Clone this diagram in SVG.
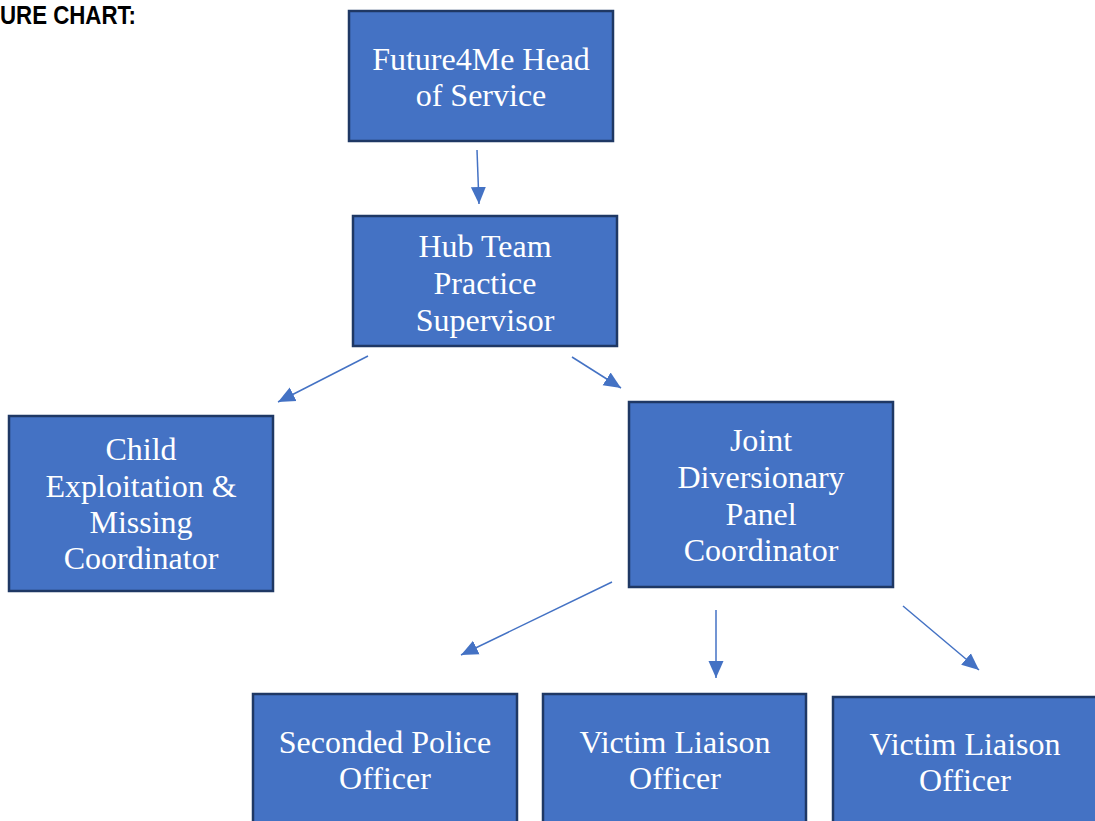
<svg xmlns="http://www.w3.org/2000/svg" width="1095" height="821" viewBox="0 0 1095 821">
<style>
.box{fill:#4472C4;stroke:#1F3864;stroke-width:2.5}
.lbl{fill:#FFFFFF;font-family:"Liberation Serif","Times New Roman",serif;font-size:32px;text-anchor:middle}
.conn{stroke:#4472C4;stroke-width:1.5;fill:none;marker-end:url(#arr)}
.title{fill:#000000;font-family:"Liberation Sans",Arial,sans-serif;font-weight:bold;font-size:25px}
</style>
<defs>
<marker id="arr" markerUnits="userSpaceOnUse" markerWidth="18" markerHeight="18" viewBox="0 0 18 18" refX="17" refY="9" orient="auto">
<path d="M0,1.5 L17,9 L0,16.5 Z" fill="#4472C4"/>
</marker>
</defs>
<rect width="1095" height="821" fill="#FFFFFF"/>
<text class="title" x="0" y="24" textLength="136" lengthAdjust="spacingAndGlyphs">URE CHART:</text>
<g id="connectors">
<line class="conn" x1="477" y1="150" x2="479" y2="204"/>
<line class="conn" x1="368" y1="356" x2="278" y2="402"/>
<line class="conn" x1="572" y1="357" x2="621" y2="388"/>
<line class="conn" x1="612" y1="582" x2="461" y2="655"/>
<line class="conn" x1="716" y1="610" x2="716" y2="678"/>
<line class="conn" x1="903" y1="606" x2="979" y2="670"/>
</g>
<g id="head">
<rect class="box" x="349" y="11" width="264" height="130"/>
<text class="lbl" x="481" y="70">Future4Me Head</text>
<text class="lbl" x="481" y="106">of Service</text>
</g>
<g id="hub">
<rect class="box" x="353" y="216" width="264" height="130"/>
<text class="lbl" x="485" y="257">Hub Team</text>
<text class="lbl" x="485" y="294">Practice</text>
<text class="lbl" x="485" y="331">Supervisor</text>
</g>
<g id="child">
<rect class="box" x="9" y="416" width="264" height="175"/>
<text class="lbl" x="141" y="460">Child</text>
<text class="lbl" x="141" y="497">Exploitation &amp;</text>
<text class="lbl" x="141" y="533">Missing</text>
<text class="lbl" x="141" y="569">Coordinator</text>
</g>
<g id="joint">
<rect class="box" x="629" y="402" width="264" height="185"/>
<text class="lbl" x="761" y="451">Joint</text>
<text class="lbl" x="761" y="488">Diversionary</text>
<text class="lbl" x="761" y="525">Panel</text>
<text class="lbl" x="761" y="561">Coordinator</text>
</g>
<g id="police">
<rect class="box" x="253" y="694" width="264" height="140"/>
<text class="lbl" x="385" y="753">Seconded Police</text>
<text class="lbl" x="385" y="789">Officer</text>
</g>
<g id="victim1">
<rect class="box" x="543" y="694" width="263" height="140"/>
<text class="lbl" x="675" y="753">Victim Liaison</text>
<text class="lbl" x="675" y="789">Officer</text>
</g>
<g id="victim2">
<rect class="box" x="833" y="697" width="264" height="140"/>
<text class="lbl" x="965" y="755">Victim Liaison</text>
<text class="lbl" x="965" y="791">Officer</text>
</g>
</svg>
